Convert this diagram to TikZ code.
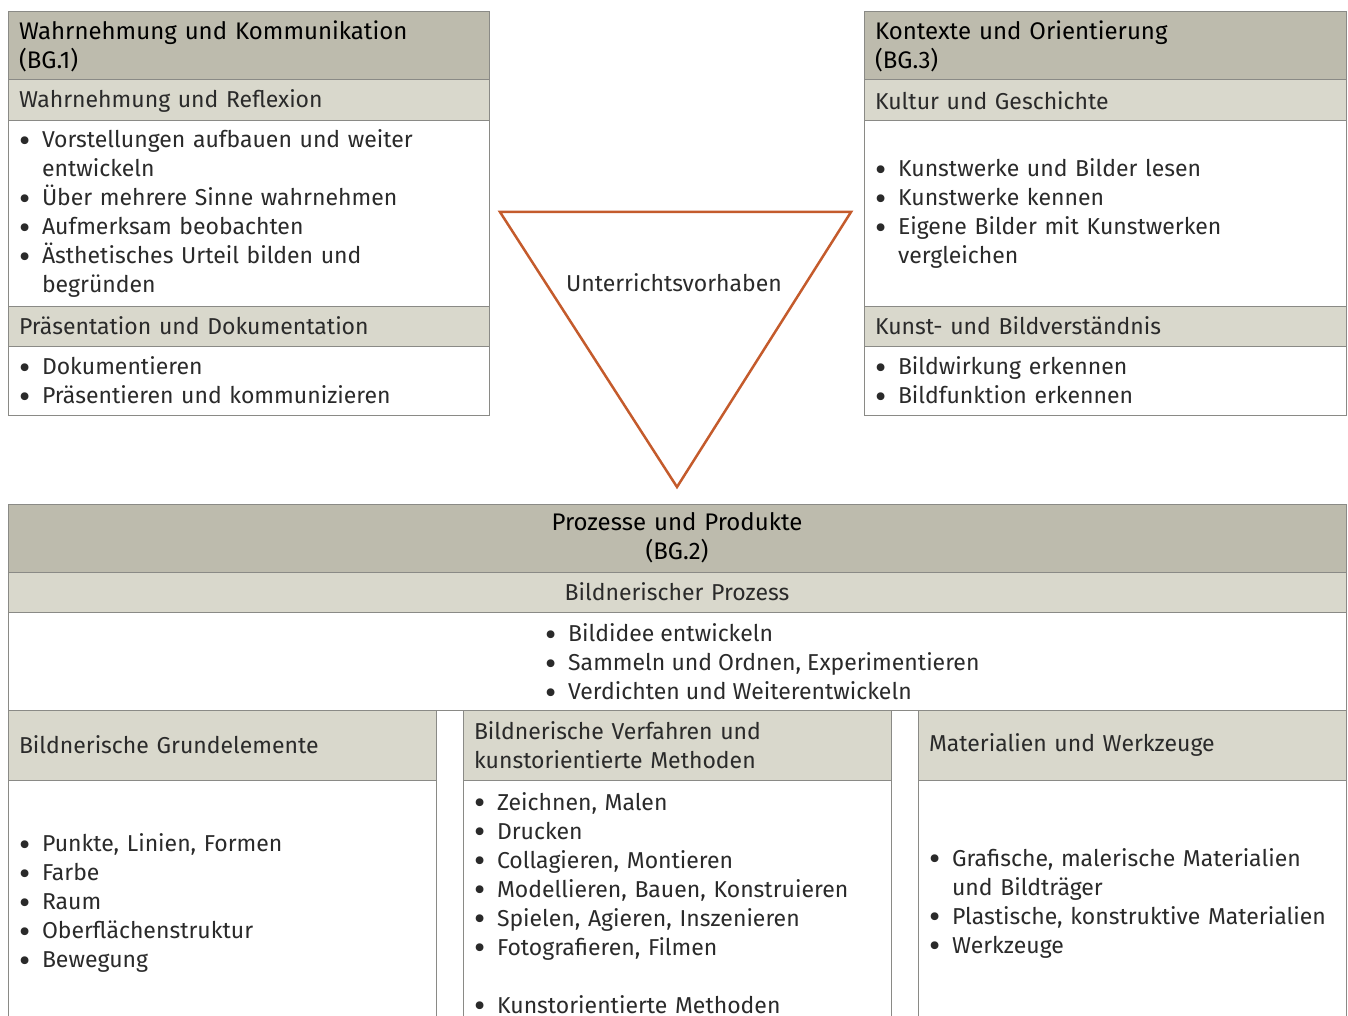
\documentclass[tikz,border=0pt]{standalone}
\usepackage{fontspec}
\setmainfont{Fira Sans}
\usetikzlibrary{positioning}
\definecolor{headgray}{HTML}{BDBBAD}
\definecolor{subgray}{HTML}{D9D8CC}
\definecolor{rulegray}{HTML}{8A8A86}
\definecolor{triorange}{HTML}{C45B2C}
\definecolor{textgray}{HTML}{2A2A2A}
\newcommand{\txt}{\fontsize{23}{29}\selectfont}
\newcommand{\hdtxt}{\fontsize{24}{29}\selectfont}
\newcommand{\itm}{\makebox[23pt][l]{\smash{\raisebox{-4.5pt}{\scalebox{1.5}{\textbullet}}}}}
\newcommand{\cont}{\hspace*{23pt}}

\begin{document}
\begin{tikzpicture}[x=1pt,y=-1pt,
  box/.style={draw=rulegray,line width=1pt,outer sep=0pt,inner xsep=11pt,inner ysep=0pt,align=left,text=textgray,font=\txt},
  headbox/.style={box,fill=headgray,minimum height=68pt,text=black,font=\hdtxt},
  subbox/.style={box,fill=subgray,minimum height=#1},
  bodybox/.style={box,fill=white,minimum height=#1},
  tri/.style={draw=triorange,line width=2.5pt}]
            \useasboundingbox (0,0) rectangle (1348,1016);
            \clip (0,0) rectangle (1348,1016);

            \node[headbox,text width=459pt,anchor=north west] (bg1) at (8,12) {Wahrnehmung und Kommunikation\\(BG.1)};
            \node[subbox=41pt,text width=459pt,below=0pt of bg1] (bg1a) {Wahrnehmung und Reflexion};
            \node[bodybox=185pt,text width=459pt,below=0pt of bg1a] (bg1b) {\itm Vorstellungen aufbauen und weiter\\\cont entwickeln\\\itm Über mehrere Sinne wahrnehmen\\\itm Aufmerksam beobachten\\\itm Ästhetisches Urteil bilden und\\\cont begründen};
            \node[subbox=40pt,text width=459pt,below=0pt of bg1b] (bg1c) {Präsentation und Dokumentation};
            \node[bodybox=69pt,text width=459pt,below=0pt of bg1c] (bg1d) {\itm Dokumentieren\\\itm Präsentieren und kommunizieren};

            \node[headbox,text width=460pt,anchor=north west] (bg3) at (864,12) {Kontexte und Orientierung\\(BG.3)};
            \node[subbox=41pt,text width=460pt,below=0pt of bg3] (bg3a) {Kultur und Geschichte};
            \node[bodybox=185pt,text width=460pt,below=0pt of bg3a] (bg3b) {\itm Kunstwerke und Bilder lesen\\\itm Kunstwerke kennen\\\itm Eigene Bilder mit Kunstwerken\\\cont vergleichen};
            \node[subbox=40pt,text width=460pt,below=0pt of bg3b] (bg3c) {Kunst- und Bildverständnis};
            \node[bodybox=69pt,text width=460pt,below=0pt of bg3c] (bg3d) {\itm Bildwirkung erkennen\\\itm Bildfunktion erkennen};

            \coordinate (tl) at (500,212);
            \coordinate (tr) at (851,212);
            \coordinate (tb) at (677,487);
            \draw[tri] (tl) -- (tr) -- (tb) -- cycle;
            \node[font=\txt,text=textgray] (uv) at (674,283) {Unterrichtsvorhaben};

            \node[headbox,text width=1316pt,align=center,anchor=north west] (bg2) at (8,504) {Prozesse und Produkte\\(BG.2)};
            \node[subbox=40pt,text width=1316pt,align=center,below=0pt of bg2] (bg2a) {Bildnerischer Prozess};
            \node[bodybox=98pt,text width=1316pt,below=0pt of bg2a] (bg2b) {};
            \node[font=\txt,text=textgray,align=left,anchor=west,inner sep=0pt] (bg2l) at ([xshift=537pt,yshift=-1pt]bg2b.west) {\itm Bildidee entwickeln\\\itm Sammeln und Ordnen, Experimentieren\\\itm Verdichten und Weiterentwickeln};

            \node[subbox=70pt,text width=406pt,anchor=north west] (c1) at (8,710) {Bildnerische Grundelemente};
            \node[bodybox=246pt,text width=406pt,below=0pt of c1] (c1b) {\itm Punkte, Linien, Formen\\\itm Farbe\\\itm Raum\\\itm Oberflächenstruktur\\\itm Bewegung};

            \node[subbox=70pt,text width=406pt,anchor=north west] (c2) at (463,710) {Bildnerische Verfahren und\\kunstorientierte Methoden};
            \node[bodybox=246pt,text width=406pt,below=0pt of c2] (c2b) {\itm Zeichnen, Malen\\\itm Drucken\\\itm Collagieren, Montieren\\\itm Modellieren, Bauen, Konstruieren\\\itm Spielen, Agieren, Inszenieren\\\itm Fotografieren, Filmen\\[29pt]\itm Kunstorientierte Methoden};

            \node[subbox=70pt,text width=406pt,anchor=north west] (c3) at (918,710) {Materialien und Werkzeuge};
            \node[bodybox=246pt,text width=406pt,below=0pt of c3] (c3b) {\itm Grafische, malerische Materialien\\\cont und Bildträger\\\itm Plastische, konstruktive Materialien\\\itm Werkzeuge};
        \end{tikzpicture}
\end{document}
